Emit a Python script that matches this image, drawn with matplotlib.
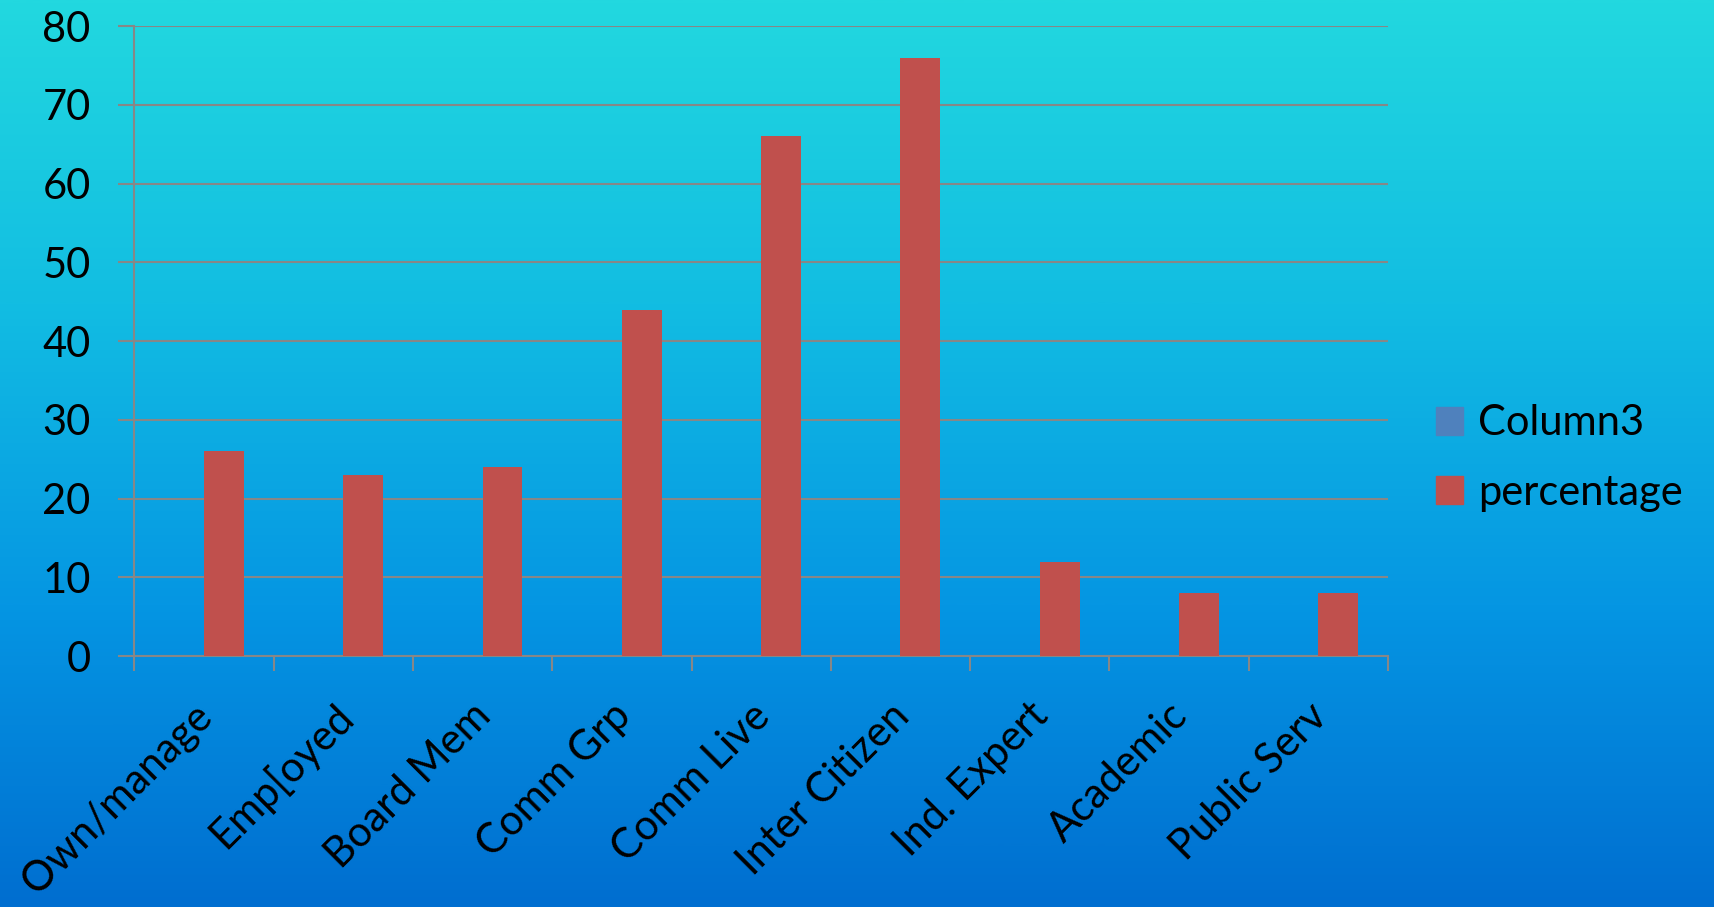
import numpy as np
import matplotlib
matplotlib.use('Agg')
import matplotlib.pyplot as plt
from matplotlib.colors import LinearSegmentedColormap
from matplotlib.patches import Patch

categories = ['Own/manage', 'Emp[oyed', 'Board Mem', 'Comm Grp', 'Comm Live',
              'Inter Citizen', 'Ind. Expert', 'Academic', 'Public Serv']
column3 = [0, 0, 0, 0, 0, 0, 0, 0, 0]
percentage = [26, 23, 24, 44, 66, 76, 12, 8, 8]
yticks = [0, 10, 20, 30, 40, 50, 60, 70, 80]

plt.rcParams['font.family'] = ['Lato', 'DejaVu Sans']
grid_col = '#878787'
fs = 30

fig = plt.figure(figsize=(17.15, 9.07), dpi=100)

# gradient backdrop
bg = fig.add_axes([0, 0, 1, 1], zorder=-10)
cmap = LinearSegmentedColormap.from_list('bg', ['#22d8df', '#12bde2', '#0596e3', '#006ed0'])
grad = np.linspace(0, 1, 512).reshape(-1, 1)
bg.imshow(grad, aspect='auto', cmap=cmap, extent=[0, 1, 0, 1], origin='upper')
bg.set_axis_off()

ax = fig.add_axes([0.0784, 0.2767, 0.7309, 0.6946])
ax.set_facecolor('none')

x = np.arange(len(categories))
w = 1 / 3.5
ax.bar(x - w / 2, column3, w, color='#4f81bd', label='Column3', zorder=3)
ax.bar(x + w / 2, percentage, w, color='#c0504d', label='percentage', zorder=3)

ax.set_xlim(-0.5, len(categories) - 0.5)
ax.set_ylim(0, 80)
ax.set_yticks(yticks)
ax.yaxis.grid(True, color=grid_col, linewidth=1.5, zorder=0)
ax.set_axisbelow(True)

# boundary ticks below the axis; labels on invisible minor ticks just left of centre
ax.set_xticks(np.arange(-0.5, len(categories), 1))
ax.set_xticklabels([])
ax.set_xticks(x - 0.08, minor=True)
ax.set_xticklabels(categories, minor=True, rotation=45, ha='right',
                   rotation_mode='anchor', fontsize=fs)
ax.tick_params(axis='x', which='major', length=11, width=1.5, color=grid_col)
ax.tick_params(axis='x', which='minor', length=0, pad=29)
ax.tick_params(axis='y', length=11.5, width=1.5, color=grid_col, labelsize=fs, pad=20)

for s in ['top', 'right']:
    ax.spines[s].set_visible(False)
for s in ['left', 'bottom']:
    ax.spines[s].set_color(grid_col)
    ax.spines[s].set_linewidth(1.5)

handles = [Patch(color='#4f81bd', label='Column3'), Patch(color='#c0504d', label='percentage')]
fig.legend(handles=handles, loc='center left', bbox_to_anchor=(1436 / 1715, 1 - 458 / 907),
           frameon=False, fontsize=fs, handlelength=0.65, handleheight=0.65,
           handletextpad=0.35, labelspacing=0.75, borderpad=0, borderaxespad=0)

plt.savefig('out.png', dpi=100)
